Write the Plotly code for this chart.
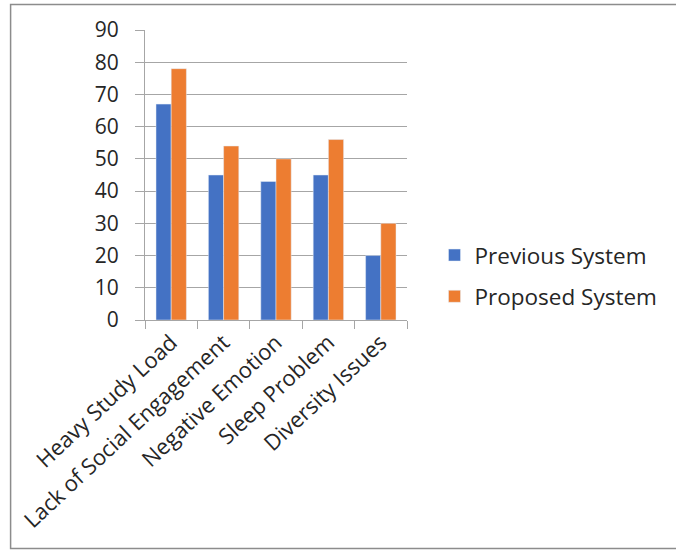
import plotly.graph_objects as go

categories = ["Heavy Study Load", "Lack of Social Engagement", "Negative Emotion",
              "Sleep Problem", "Diversity Issues"]
previous_system = [67, 45, 43, 45, 20]
proposed_system = [78, 54, 50, 56, 30]
y_ticks = [0, 10, 20, 30, 40, 50, 60, 70, 80, 90]

FONT = "Open Sans, Lato, sans-serif"
TEXT = "#262626"

fig = go.Figure()
fig.add_trace(go.Bar(x=categories, y=previous_system, name="Previous System",
                     marker_color="#4472C4", legendgroup="a"))
fig.add_trace(go.Bar(x=categories, y=proposed_system, name="Proposed System",
                     marker_color="#ED7D31", legendgroup="b"))

fig.update_layout(
    width=676, height=550,
    margin=dict(l=145, r=269, t=30, b=230),
    paper_bgcolor="white", plot_bgcolor="white",
    barmode="group", bargap=0.42, bargroupgap=0,
    font=dict(family=FONT, color=TEXT),
    showlegend=True,
    legend=dict(x=1.105, y=0.152, xanchor="left", yanchor="middle",
                font=dict(size=22.5, family=FONT, color=TEXT),
                tracegroupgap=9, bgcolor="rgba(0,0,0,0)"),
    xaxis=dict(
        type="category", tickangle=-43, tickson="boundaries",
        ticks="outside", ticklen=8, tickcolor="#a6a6a6",
        showline=True, linecolor="#a6a6a6", linewidth=1,
        showgrid=False,
        tickfont=dict(size=22, family=FONT, color=TEXT),
    ),
    yaxis=dict(
        range=[0, 90], tickvals=y_ticks,
        ticks="outside", ticklen=9, tickcolor="#a6a6a6",
        showline=True, linecolor="#a6a6a6", linewidth=1,
        showgrid=True, gridcolor="#a6a6a6", gridwidth=1,
        zeroline=False,
        tickfont=dict(size=21, family=FONT, color=TEXT),
        ticklabelstandoff=12,
    ),
)

# frame around the chart area
fig.add_shape(type="path", xref="paper", yref="paper",
              path="M 2.1 1.088 L -0.513 1.088 L -0.513 -0.788 L 2.1 -0.788",
              line=dict(color="#8c8c8c", width=1.5))

fig.write_html("out.html")
